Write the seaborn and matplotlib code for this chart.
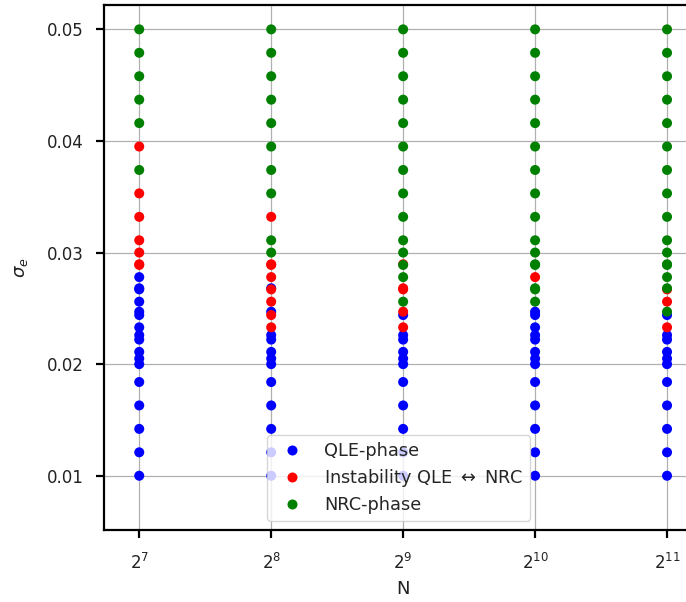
import matplotlib
matplotlib.use("Agg")
import matplotlib.pyplot as plt
import seaborn as sns
import pandas as pd

# ---- data -------------------------------------------------------------
N_values = [128, 256, 512, 1024, 2048]
sigma_values = [0.0100, 0.0121, 0.0142, 0.0163, 0.0184, 0.0200, 0.0205, 0.0211,
                0.0222, 0.0226, 0.0233, 0.0244, 0.0247, 0.0256, 0.0267, 0.0268,
                0.0278, 0.02889, 0.02895, 0.0300, 0.0311, 0.0332, 0.0353, 0.0374,
                0.0395, 0.0416, 0.0437, 0.0458, 0.0479, 0.0500]
# Q = QLE-phase, I = instability, N = NRC-phase (one code per sigma value)
phase_N128 = ["Q"] * 17 + ["I", "I", "I", "I", "I", "I", "N", "I", "N", "N", "N", "N", "N"]
phase_N256 = ["Q"] * 10 + ["I", "I", "Q", "I", "I", "Q", "I", "I", "I", "N", "N", "I",
                           "N", "N", "N", "N", "N", "N", "N", "N"]
phase_N512 = ["Q"] * 10 + ["I", "Q", "I", "N", "I", "I", "N", "N", "I", "N", "N", "N",
                           "N", "N", "N", "N", "N", "N", "N", "N"]
phase_N1024 = ["Q"] * 13 + ["N", "N", "N", "I", "N", "N", "N", "N", "N", "N", "N",
                            "N", "N", "N", "N", "N", "N"]
phase_N2048 = ["Q"] * 10 + ["I", "Q", "N", "I", "I", "N", "N", "N", "N", "N", "N", "N",
                            "N", "N", "N", "N", "N", "N", "N", "N"]
phase_names = {"Q": "QLE-phase", "I": "Instability QLE $\\leftrightarrow$ NRC", "N": "NRC-phase"}
phase_colors = ["blue", "red", "green"]

# ---- build table ------------------------------------------------------
rows = []
for n, phases in zip(N_values, [phase_N128, phase_N256, phase_N512, phase_N1024, phase_N2048]):
    for s, p in zip(sigma_values, phases):
        rows.append({"N": n, "sigma": s, "phase": phase_names[p]})
df = pd.DataFrame(rows)
order = [phase_names["Q"], phase_names["I"], phase_names["N"]]
df["ord"] = df["phase"].map({k: i for i, k in enumerate(order)})
df = df.sort_values("ord", kind="stable")

# ---- plot -------------------------------------------------------------
sns.set_style("white")
plt.rcParams["font.family"] = ["DejaVu Sans"]
plt.rcParams["mathtext.fontset"] = "dejavusans"
fig = plt.figure(figsize=(6.86, 6.02), dpi=100)
ax = fig.add_axes([0.152, 0.12, 0.87, 0.872])

sns.scatterplot(data=df, x="N", y="sigma", hue="phase", hue_order=order,
                palette=phase_colors, s=52, linewidth=0, ax=ax, zorder=3)

ax.set_xscale("log", base=2)
ax.set_xlim(2 ** 6.735, 2 ** 11.258)
ax.set_ylim(0.00516, 0.0522)
ax.set_yticks([0.01, 0.02, 0.03, 0.04, 0.05])
ax.set_xticks(N_values)
ax.grid(True, color="#b0b0b0", linewidth=0.9)
ax.set_axisbelow(True)
for sp in ax.spines.values():
    sp.set_color("black")
    sp.set_linewidth(1.6)
ax.tick_params(axis="both", direction="out", length=6, width=1.6, labelsize=12,
               colors="black", labelcolor="#222222", left=True, bottom=True, pad=9)
ax.tick_params(axis="x", pad=11)
ax.tick_params(axis="x", which="minor", bottom=False)
ax.set_xlabel("N", fontsize=13, color="#222222", labelpad=5)
ax.set_ylabel(r"$\sigma_e$", fontsize=13, color="#222222", labelpad=12)

leg = ax.legend(loc="lower right", bbox_to_anchor=(0.714, 0.017), fontsize=12.8,
                title=None, frameon=True, framealpha=0.8, handletextpad=0.8,
                borderpad=0.4, labelspacing=0.38, borderaxespad=0)
leg.get_frame().set_edgecolor("#cccccc")

fig.savefig("out.png", dpi=100)
